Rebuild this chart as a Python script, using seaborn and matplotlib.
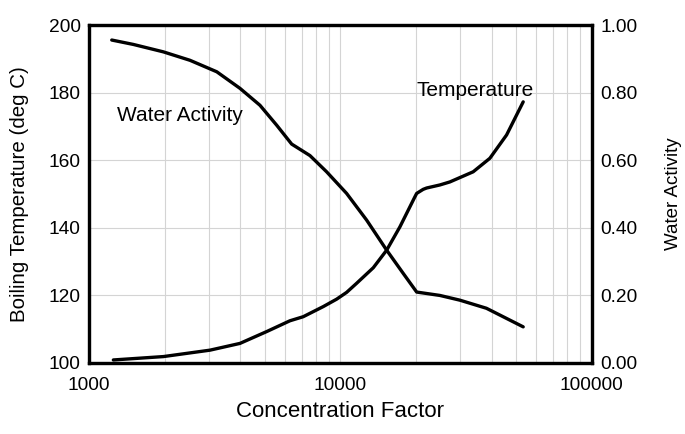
import numpy as np
import pandas as pd
import matplotlib
matplotlib.use("Agg")
import matplotlib.pyplot as plt
import seaborn as sns
from matplotlib.ticker import LogLocator, FixedLocator, NullFormatter

# values
temp_x = [1249, 1975, 3027, 3984, 5087, 6297, 7110, 8545, 9660, 10580, 11600, 13510, 15270, 17240,
          19780, 20100, 21330, 22020, 24860, 27250, 33730, 39300, 45800, 53330]
temp_y = [100.9, 101.9, 103.8, 105.8, 109.3, 112.5, 113.7, 116.7, 118.9, 120.9, 123.6, 128.2, 133.4, 140.3,
          149.2, 150.2, 151.4, 151.8, 152.7, 153.6, 156.6, 160.6, 167.5, 177.3]

wa_x = [1231, 1500, 1975, 2521, 3222, 3984, 4783, 5575, 6397, 7563, 8810, 10580, 12710, 15270,
        17780, 20100, 24860, 29850, 38080, 53330]
wa_y = [0.956, 0.943, 0.921, 0.896, 0.862, 0.813, 0.763, 0.704, 0.648, 0.614, 0.566, 0.502, 0.423, 0.334,
        0.265, 0.210, 0.200, 0.186, 0.162, 0.107]

temp_df = pd.DataFrame({"cf": temp_x, "temp": temp_y})
wa_df = pd.DataFrame({"cf": wa_x, "wa": wa_y})

sns.set_style("white")
plt.rcParams['font.family'] = ['Liberation Sans', 'DejaVu Sans']
plt.rcParams['text.color'] = 'black'
plt.rcParams['axes.labelcolor'] = 'black'
plt.rcParams['xtick.color'] = 'black'
plt.rcParams['ytick.color'] = 'black'

fig = plt.figure(figsize=(6.85, 4.34), dpi=100)
ax = fig.add_axes([0.130, 0.1636, 0.734, 0.7784])
ax2 = ax.twinx()

sns.lineplot(data=temp_df, x="cf", y="temp", ax=ax, color="black", lw=2.4)
sns.lineplot(data=wa_df, x="cf", y="wa", ax=ax2, color="black", lw=2.4)

ax.set_xscale("log")
ax.set_xlim(1000, 100000)
ax.set_ylim(100, 200)
ax2.set_ylim(0, 1)

ax.xaxis.set_major_locator(FixedLocator([1000, 10000, 100000]))
ax.set_xticklabels(["1000", "10000", "100000"])
ax.xaxis.set_minor_locator(LogLocator(base=10, subs=np.arange(2, 10)))
ax.xaxis.set_minor_formatter(NullFormatter())
ax.set_yticks([100, 120, 140, 160, 180, 200])
ax2.set_yticks([0, 0.2, 0.4, 0.6, 0.8, 1.0])
ax2.set_yticklabels(["0.00", "0.20", "0.40", "0.60", "0.80", "1.00"])

ax.grid(True, which="both", axis="x", color="#d4d4d4", lw=0.8)
ax.grid(True, which="major", axis="y", color="#d4d4d4", lw=0.8)
ax.set_axisbelow(True)

ax.tick_params(axis="y", length=0, labelsize=13.8, pad=6)
ax.tick_params(axis="x", which="both", length=0, labelsize=13.8, pad=10)
ax2.tick_params(axis="y", length=0, labelsize=13.8, pad=6)

for a in (ax, ax2):
    for s in a.spines.values():
        s.set_linewidth(2.3)
        s.set_color("black")

ax.set_xlabel("Concentration Factor", fontsize=16, labelpad=5)
ax.set_ylabel("Boiling Temperature (deg C)", fontsize=14.8, labelpad=14)
ax2.set_ylabel("Water Activity", fontsize=13.5, labelpad=20)

ax.text(0.056, 0.734, "Water Activity", transform=ax.transAxes, fontsize=15, va="center", ha="left")
ax.text(0.652, 0.808, "Temperature", transform=ax.transAxes, fontsize=15, va="center", ha="left")

fig.savefig("out.png", dpi=100)
